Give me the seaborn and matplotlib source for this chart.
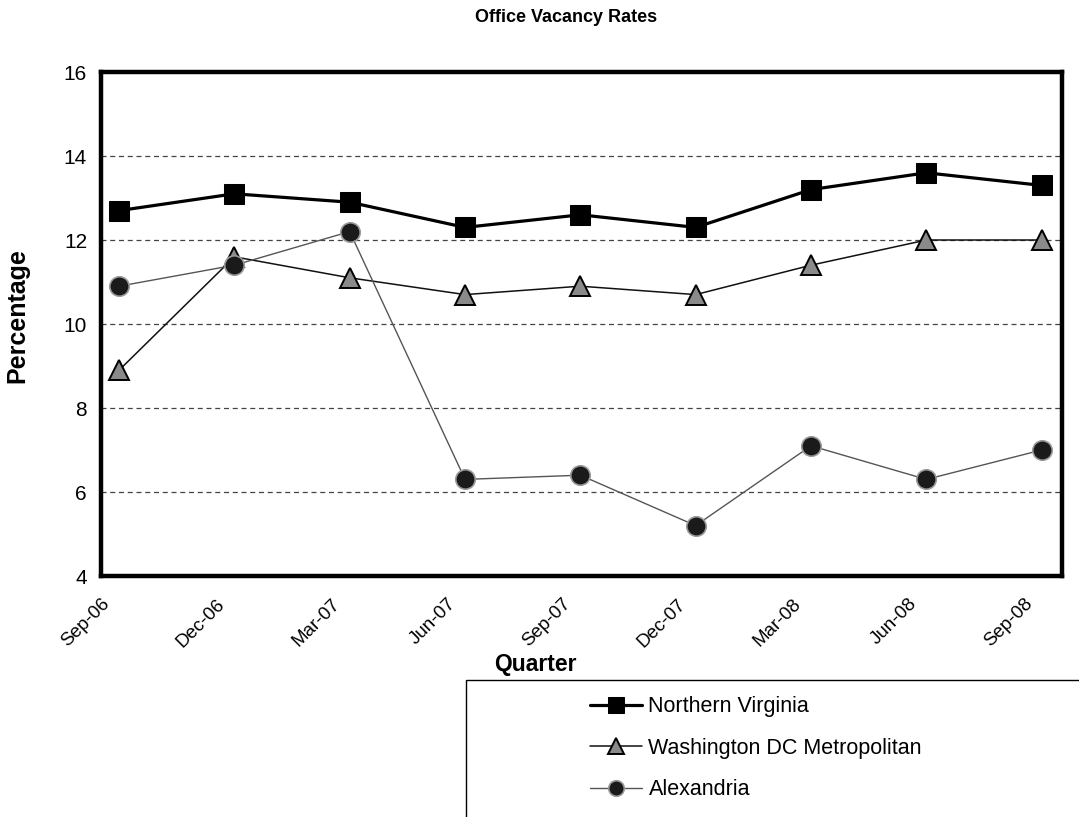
import matplotlib
matplotlib.use("Agg")
import matplotlib.pyplot as plt
import seaborn as sns
import pandas as pd
from matplotlib.patches import Rectangle

quarters = ["Sep-06", "Dec-06", "Mar-07", "Jun-07", "Sep-07",
            "Dec-07", "Mar-08", "Jun-08", "Sep-08"]
northern_virginia = [12.7, 13.1, 12.9, 12.3, 12.6, 12.3, 13.2, 13.6, 13.3]
washington_dc = [8.9, 11.6, 11.1, 10.7, 10.9, 10.7, 11.4, 12.0, 12.0]
alexandria = [10.9, 11.4, 12.2, 6.3, 6.4, 5.2, 7.1, 6.3, 7.0]
y_ticks = [4, 6, 8, 10, 12, 14, 16]

sns.set_theme(style="white")
plt.rcParams["font.family"] = ["Liberation Sans", "DejaVu Sans"]
plt.rcParams["text.color"] = "black"
plt.rcParams["xtick.color"] = "black"
plt.rcParams["ytick.color"] = "black"
plt.rcParams["axes.labelcolor"] = "black"

# month-based axis: ticks on quarter months, readings fall mid-month
tick_pos = [3 * i for i in range(len(quarters))]
point_pos = [3 * i + 0.47 for i in range(len(quarters))]

df = pd.DataFrame({"month": point_pos,
                   "Northern Virginia": northern_virginia,
                   "Washington DC Metropolitan": washington_dc,
                   "Alexandria": alexandria})

fig = plt.figure(figsize=(10.79, 8.17), dpi=100)
ax = fig.add_axes([101 / 1079, 1 - 576 / 817, (1062 - 101) / 1079, (576 - 72) / 817])

sns.lineplot(data=df, x="month", y="Northern Virginia", ax=ax, color="black",
             linewidth=2.3, marker="s", markersize=15, markerfacecolor="black",
             markeredgecolor="black", label="Northern Virginia", zorder=4)
sns.lineplot(data=df, x="month", y="Washington DC Metropolitan", ax=ax, color="#111111",
             linewidth=1.1, marker="^", markersize=15, markerfacecolor="#8a8a8a",
             markeredgecolor="black", markeredgewidth=1.4,
             label="Washington DC Metropolitan", zorder=3)
sns.lineplot(data=df, x="month", y="Alexandria", ax=ax, color="#555555",
             linewidth=1.0, marker="o", markersize=14, markerfacecolor="#1a1a1a",
             markeredgecolor="#9a9a9a", markeredgewidth=1.2,
             label="Alexandria", zorder=5)

ax.set_xlim(0, 25)
ax.set_ylim(4, 16)
ax.set_yticks(y_ticks)
ax.set_yticklabels([str(v) for v in y_ticks], fontsize=15)
ax.set_xticks(tick_pos)
ax.set_xticklabels(quarters, rotation=45, ha="right", rotation_mode="anchor", fontsize=13.5)
ax.tick_params(axis="x", direction="out", length=5, width=1, color="black", pad=9)
ax.tick_params(axis="y", direction="out", length=4, width=1, color="black", pad=6)

for v in y_ticks[1:-1]:
    ax.axhline(v, color="#444444", linewidth=0.9, linestyle=(0, (4, 3)), zorder=1)

for s in ax.spines.values():
    s.set_visible(True)
    s.set_color("black")
    s.set_linewidth(3.2)

ax.set_xlabel("")
ax.set_ylabel("")
ax.get_legend().remove()

fig.text(566 / 1079, 1 - 17 / 817, "Office Vacancy Rates", ha="center", va="center",
         fontsize=13, fontweight="bold")
fig.text(17 / 1079, 1 - 316 / 817, "Percentage", ha="center", va="center",
         rotation=90, fontsize=18, fontweight="bold")
fig.text(535 / 1079, 1 - 664 / 817, "Quarter", ha="center", va="center",
         fontsize=16.5, fontweight="bold")

# legend box running off the lower-right corner of the figure
fig.patches.append(Rectangle((466 / 1079, -0.05), 0.7, 0.05 + (817 - 680) / 817,
                             transform=fig.transFigure, fill=False,
                             edgecolor="black", linewidth=1.0))
handles, labels = ax.get_legend_handles_labels()
fig.legend(handles, labels, loc="upper left",
           bbox_to_anchor=(571 / 1079, 1 - 677 / 817), frameon=False,
           fontsize=15.5, handlelength=2.4, handletextpad=0.3, labelspacing=0.95,
           markerscale=0.8)

fig.savefig("out.png", dpi=100)
